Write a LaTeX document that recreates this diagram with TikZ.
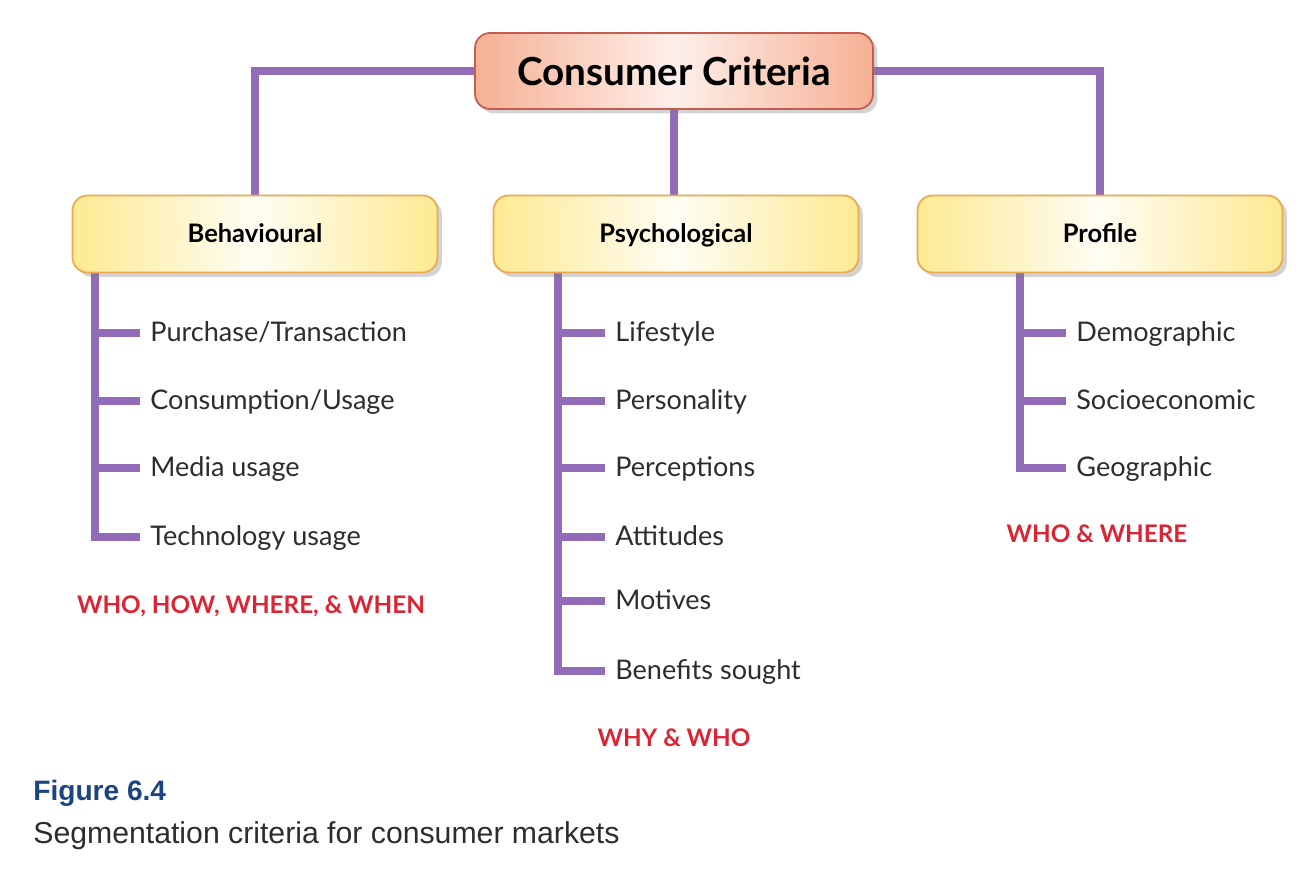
\documentclass[tikz,border=0pt]{standalone}
\usepackage{fontspec}
\setmainfont{Lato}
\newfontfamily\capfont{Liberation Sans}
\usetikzlibrary{positioning,shadows,backgrounds}
\definecolor{linkpurple}{RGB}{146,108,184}
\definecolor{peach}{RGB}{246,176,148}
\definecolor{peachedge}{RGB}{196,92,80}
\definecolor{butter}{RGB}{253,234,146}
\definecolor{butteredge}{RGB}{234,170,80}
\definecolor{tagred}{RGB}{218,38,52}
\definecolor{figblue}{RGB}{28,68,128}
\definecolor{textgray}{RGB}{45,45,45}

\begin{document}
\begin{tikzpicture}[x=0.02cm,y=-0.02cm,
  topbox/.style={draw=peachedge,line width=1pt,rounded corners=0.3cm,minimum width=7.96cm,minimum height=1.52cm,left color=peach,right color=peach,middle color=white!80!peach,drop shadow={opacity=0.35},font=\fontsize{22}{26}\selectfont\bfseries},
  catbox/.style={draw=butteredge,line width=1pt,rounded corners=0.3cm,minimum width=7.3cm,minimum height=1.54cm,left color=butter,right color=butter,middle color=white!90!butter,drop shadow={opacity=0.35},text height=1.9ex,text depth=0.1ex,font=\fontsize{14.5}{17}\selectfont\bfseries},
  item/.style={anchor=west,inner xsep=0.2cm,text height=2ex,text depth=0.2ex,text=textgray,font=\fontsize{15.4}{18}\selectfont},
  tag/.style={text=tagred,font=\fontsize{13.8}{16}\selectfont\bfseries},
  link/.style={draw=linkpurple,line width=0.16cm}]
\useasboundingbox (0,0) rectangle (1303,874);

\node[topbox] (cc) at (674,71) {Consumer Criteria};
\node[catbox] (beh) at (255,234) {Behavioural};
\node[catbox] (psy) at (676,234) {Psychological};
\node[catbox] (pro) at (1100,234) {Profile};

\node[item] (b1) at (140,333) {Purchase/Transaction};
\node[item] (b2) at (140,401) {Consumption/Usage};
\node[item] (b3) at (140,468) {Media usage};
\node[item] (b4) at (140,537) {Technology usage};

\node[item] (p1) at (605,333) {Lifestyle};
\node[item] (p2) at (605,401) {Personality};
\node[item] (p3) at (605,468) {Perceptions};
\node[item] (p4) at (605,537) {Attitudes};
\node[item] (p5) at (605,601) {Motives};
\node[item] (p6) at (605,671) {Benefits sought};

\node[item] (r1) at (1066,333) {Demographic};
\node[item] (r2) at (1066,401) {Socioeconomic};
\node[item] (r3) at (1066,468) {Geographic};

\node[tag] (btag) at (251,606) {WHO, HOW, WHERE, \& WHEN};
\node[tag] (ptag) at (674,738) {WHY \& WHO};
\node[tag] (rtag) at (1097,534) {WHO \& WHERE};

\node[anchor=west,inner sep=0,text=figblue,font=\capfont\fontsize{16}{19}\selectfont\bfseries] (fig) at (33,793) {Figure 6.4};
\node[anchor=west,inner sep=0,text=textgray,font=\capfont\fontsize{17.2}{20}\selectfont] (cap) at (33,836) {Segmentation criteria for consumer markets};

\coordinate (bs) at (95,265);
\coordinate (ps) at (558,265);
\coordinate (rs) at (1020,265);

\begin{scope}[on background layer]
\draw[link] (cc.west) -| (beh.north);
\draw[link] (cc.east) -| (pro.north);
\draw[link] (cc.south) -- (cc.south |- psy.north);
\draw[link] (bs) |- (b4.west);
\draw[link] (b1.west) -- (b1.west -| bs);
\draw[link] (b2.west) -- (b2.west -| bs);
\draw[link] (b3.west) -- (b3.west -| bs);
\draw[link] (ps) |- (p6.west);
\draw[link] (p1.west) -- (p1.west -| ps);
\draw[link] (p2.west) -- (p2.west -| ps);
\draw[link] (p3.west) -- (p3.west -| ps);
\draw[link] (p4.west) -- (p4.west -| ps);
\draw[link] (p5.west) -- (p5.west -| ps);
\draw[link] (rs) |- (r3.west);
\draw[link] (r1.west) -- (r1.west -| rs);
\draw[link] (r2.west) -- (r2.west -| rs);
\end{scope}
\end{tikzpicture}
\end{document}
